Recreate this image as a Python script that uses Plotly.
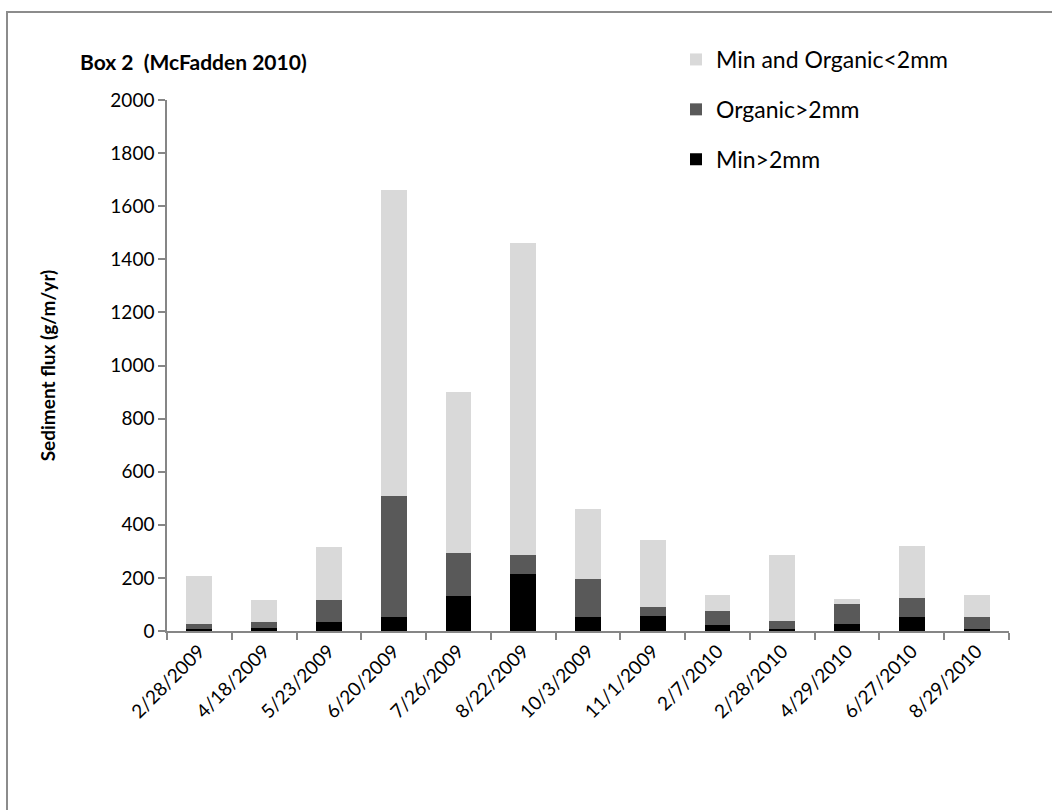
import plotly.graph_objects as go

dates = ["2/28/2009", "4/18/2009", "5/23/2009", "6/20/2009", "7/26/2009", "8/22/2009",
         "10/3/2009", "11/1/2009", "2/7/2010", "2/28/2010", "4/29/2010", "6/27/2010", "8/29/2010"]
min_gt2 = [8, 10, 34, 52, 130, 214, 52, 57, 21, 9, 26, 52, 9]
organic_gt2 = [18, 23, 83, 455, 164, 73, 143, 35, 55, 29, 74, 71, 43]
fine_lt2 = [181, 84, 198, 1153, 606, 1173, 266, 249, 58, 249, 22, 199, 82]

FONT = "Lato"

fig = go.Figure()
fig.add_trace(go.Bar(x=dates, y=min_gt2, name="Min>2mm", marker_color="#000000",
                     marker_line_width=0, legendgroup="a", legendrank=3))
fig.add_trace(go.Bar(x=dates, y=organic_gt2, name="Organic>2mm", marker_color="#595959",
                     marker_line_width=0, legendgroup="b", legendrank=2))
fig.add_trace(go.Bar(x=dates, y=fine_lt2, name="Min and Organic<2mm", marker_color="#d9d9d9",
                     marker_line_width=0, legendgroup="c", legendrank=1))

fig.update_layout(
    width=1052, height=810,
    barmode="stack", bargap=0.6,
    plot_bgcolor="white", paper_bgcolor="white",
    margin=dict(l=167, r=43, t=100, b=179),
    font=dict(family=FONT, size=18, color="#000000"),
    title=dict(text="<b>Box 2  (McFadden 2010)</b>", x=80 / 1052, xref="container", xanchor="left",
               y=1 - 63 / 810, yref="container", yanchor="middle",
               font=dict(family=FONT, size=21, color="#000000")),
    legend=dict(x=(676 - 167) / 842, xanchor="left", y=(631 - 38) / 531, yanchor="top",
                traceorder="grouped", tracegroupgap=17,
                font=dict(family=FONT, size=23, color="#000000"),
                bgcolor="rgba(0,0,0,0)", itemwidth=30),
    showlegend=True,
)

fig.update_yaxes(range=[0, 2000], dtick=200, tick0=0, showgrid=False, zeroline=False,
                 showline=True, linecolor="#868686", linewidth=1.5,
                 ticks="outside", ticklen=7, tickcolor="#868686", tickwidth=1.5,
                 title=dict(text="<b>Sediment flux (g/m/yr)</b>", font=dict(family=FONT, size=19),
                            standoff=50),
                 tickfont=dict(family=FONT, size=19))
fig.update_xaxes(showgrid=False, showline=True, linecolor="#868686", linewidth=1.5,
                 ticks="outside", ticklen=7, tickcolor="#868686", tickwidth=1.5,
                 tickson="boundaries", tickangle=-45,
                 tickfont=dict(family=FONT, size=19))

# outer chart border (left and top visible)
fig.add_shape(type="rect", xref="paper", yref="paper",
              x0=(7 - 167) / 842, x1=1.2, y0=-0.5, y1=(631 - 12) / 531,
              line=dict(color="#8c8c8c", width=2), fillcolor="rgba(0,0,0,0)", layer="below")

fig.write_html("out.html", config={"displayModeBar": False},
               post_script="document.body.style.margin='0';")
